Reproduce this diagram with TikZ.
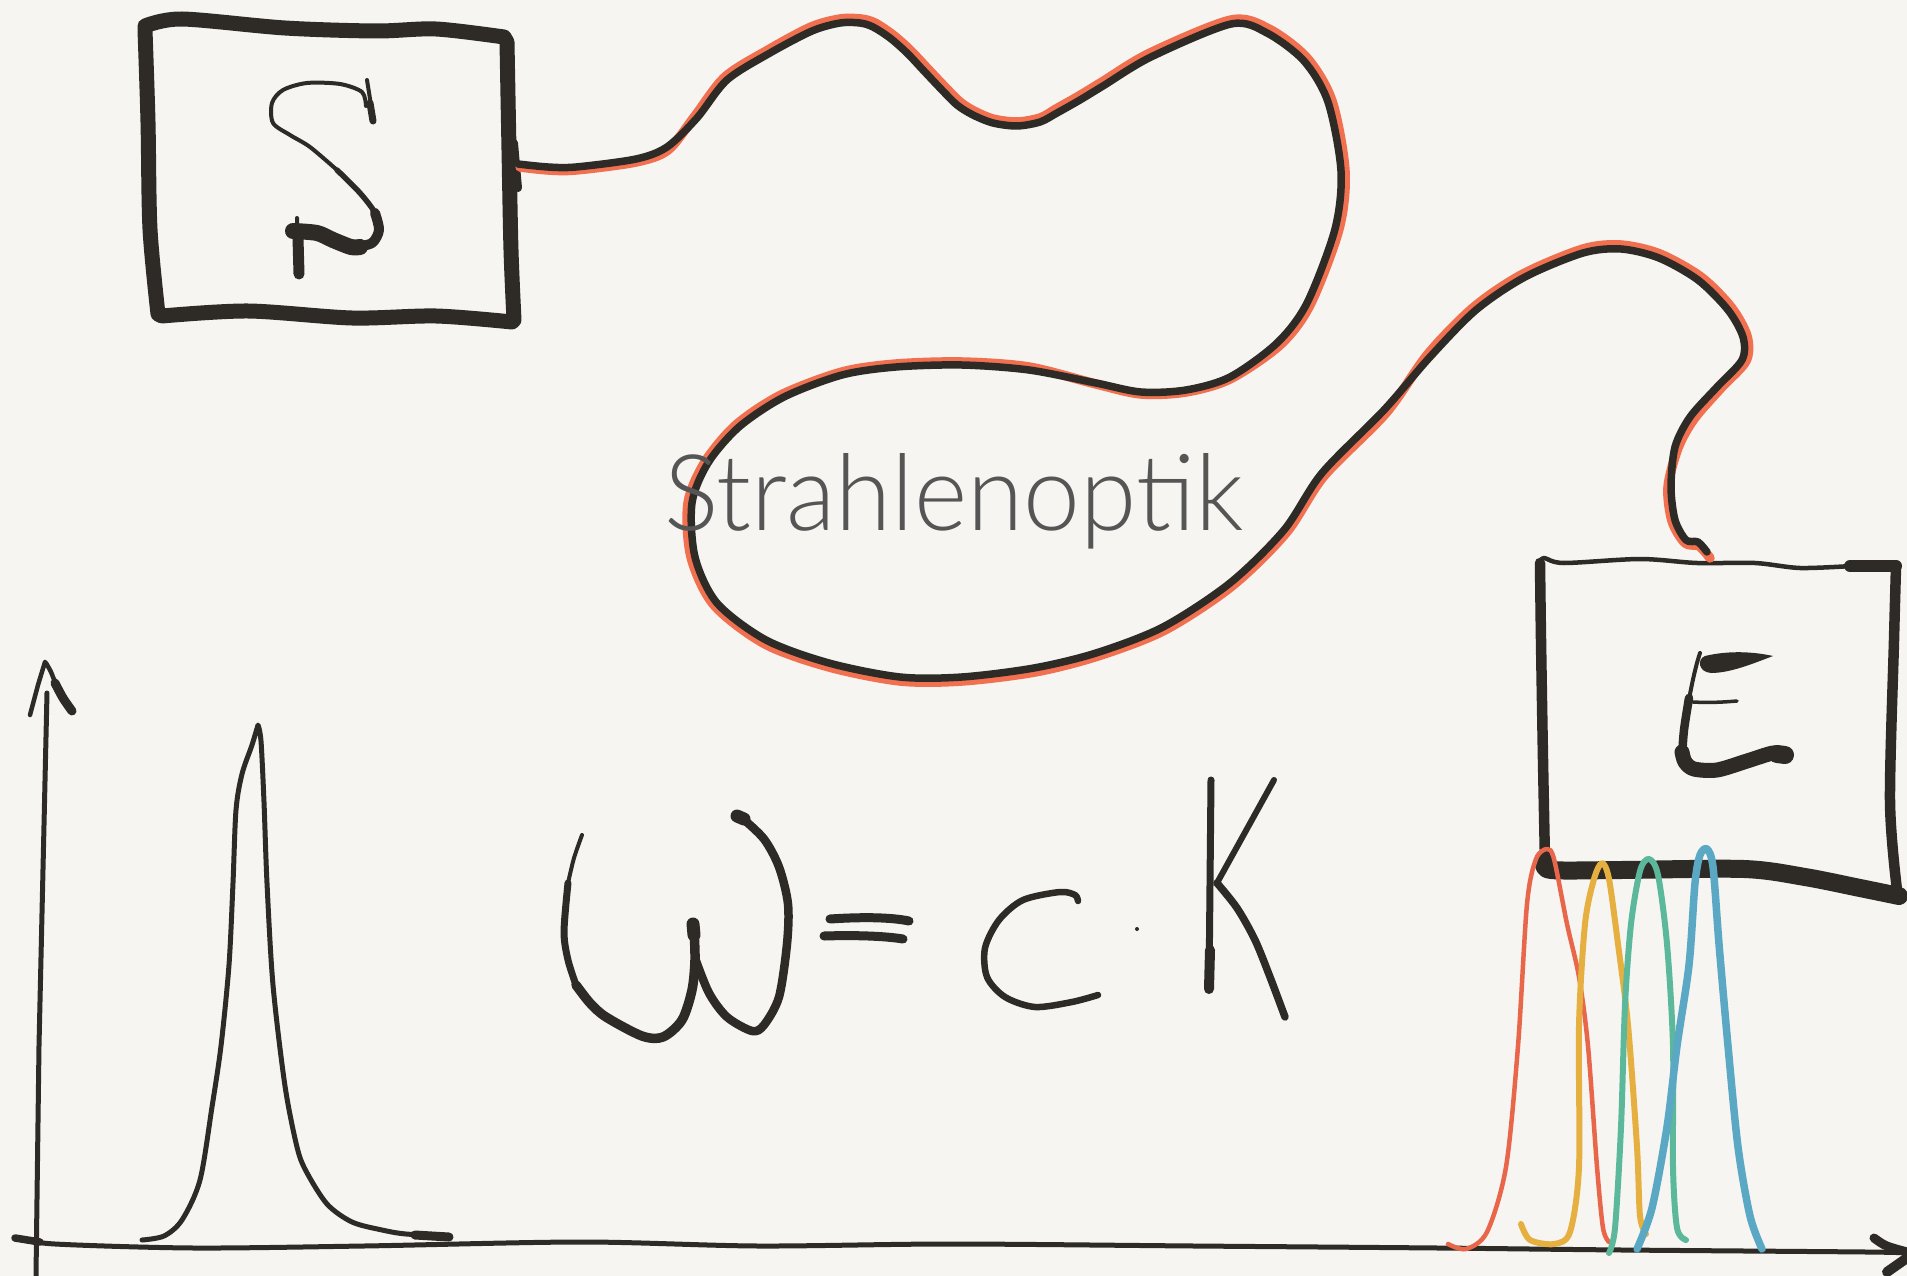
\documentclass[tikz,border=0pt]{standalone}
\usepackage{fontspec}
\newfontfamily\lightfont{Lato}[UprightFont={* Light}]
\definecolor{bg}{RGB}{246,245,241}
\definecolor{ink}{RGB}{46,43,38}
\definecolor{fib}{RGB}{240,112,80}
\definecolor{txtgray}{RGB}{85,85,85}
\definecolor{pred}{RGB}{232,103,74}
\definecolor{pyel}{RGB}{230,176,64}
\definecolor{pgrn}{RGB}{91,184,154}
\definecolor{pblu}{RGB}{90,168,196}
\tikzset{
  inkline/.style={draw=ink, line cap=round, line join=round},
  sm/.style={smooth, tension=0.5},
  fiberline/.style={draw=ink, line width=7.5, line cap=round, line join=round},
  fibershadow/.style={draw=fib, line width=9.5, line cap=round, line join=round},
  peak/.style={line cap=round, line join=round}
}
\begin{document}
\begin{tikzpicture}[x=1pt,y=-1pt]
\useasboundingbox (0,0) rectangle (1907,1276);
\fill[bg] (0,0) rectangle (1907,1276);

% ---------- S box ----------
\draw[inkline, line width=15]
  plot[sm] coordinates {(145,26) (182,19) (285,28) (376,31) (436,29) (504,37)}
  -- plot[sm] coordinates {(507,42) (509,150) (511,250) (514,320)}
  -- plot[sm] coordinates {(512,322) (436,316) (352,318) (248,311) (162,316)}
  -- plot[sm] coordinates {(158,314) (150,229) (148,122) (145,30)} -- cycle;
\draw[inkline, line width=8] (514,143) -- (518,188);
\coordinate (Sout) at (518,164);

% letter S
\draw[inkline, line width=4] (367,80) -- (371,105);
\draw[inkline, line width=7] (370,103) -- (373,121);
\draw[inkline, line width=4] plot[smooth] coordinates {(366,106) (362,92) (340,84) (307,83) (283,90) (272,103) (273,123) (290,135) (310,147) (337,170)};
\draw[inkline, line width=5.5] plot[smooth] coordinates {(337,170) (360,193) (375,213) (378,230)};
\draw[inkline, line width=10] plot[smooth] coordinates {(375,213) (379,230) (372,243) (355,247)};
\draw[inkline, line width=16] plot[smooth] coordinates {(360,247) (351,247) (333,240) (317,233) (293,231)};
\draw[inkline, line width=4] (297,218) -- (298,240);
\draw[inkline, line width=11] (298,238) -- (299,274);

% ---------- E box ----------
\draw[inkline, line width=4.5] plot[sm] coordinates {(1540,563) (1544,558) (1564,563) (1640,559) (1697,563) (1755,563) (1800,568) (1852,566)};
\draw[inkline, line width=12] (1850,566) -- (1896,566);
\draw[inkline, line width=10.5] plot[sm] coordinates {(1896,566) (1894,640) (1890,802) (1897,890)};
\draw[inkline, line width=10.5] plot[sm] coordinates {(1540,563) (1541,640) (1543,760) (1545,862)};
\draw[inkline, line width=18] plot[sm] coordinates {(1545,862) (1551,870) (1621,870) (1744,869) (1805,877) (1860,888) (1899,896)};
\coordinate (Ein) at (1707,552);

% letter E
\fill[ink] (1705,656) .. controls (1730,650) and (1755,652) .. (1773,656)
  .. controls (1752,664) and (1730,673) .. (1711,673)
  .. controls (1698,672) and (1697,659) .. cycle;
\draw[inkline, line width=4] (1700,653) .. controls (1695,668) and (1691,688) .. (1688,705);
\draw[inkline, line width=8.5] plot[smooth] coordinates {(1689,698) (1684,730) (1682,757)};
\draw[inkline, line width=15] plot[smooth] coordinates {(1682,752) (1685,762) (1694,769) (1717,770) (1747,761) (1773,753) (1784,755)};
\draw[inkline, line width=18] (1777,754) -- (1785,755);
\draw[inkline, line width=3.5] (1693,702) .. controls (1710,703) and (1725,702) .. (1737,701);

% ---------- fibre (orange shadow, then black line) ----------
\draw[fibershadow] plot[smooth, tension=0.5] coordinates {
 (520,167) (548,170) (576,170) (636,162) (668,150)
 (695,116) (725,77) (768,50) (811,27)
 (840,19) (861,19) (875,23)
 (893,35) (910,50) (926,67) (943,85) (960,102)
 (974,111) (993,119) (1017,122) (1040,118)
 (1056,109) (1079,96) (1102,82) (1150,53)
 (1231,20) (1269,29) (1307,58)
 (1332,101) (1345,171) (1339,229)
 (1310,305) (1280,345)
 (1230,379) (1186,392) (1141,394) (1096,384)
 (1029,367) (962,362) (896,364) (842,372)
 (781,395) (736,425) (705,462)
 (688,503) (691,557) (714,605)
 (765,644) (829,667) (900,681) (962,681) (1035,672)
 (1098,656) (1165,630) (1232,586) (1286,533) (1324,476) (1386,413)
 (1428,354) (1474,307) (1523,274)
 (1583,249) (1621,245) (1660,254)
 (1701,277) (1731,307) (1747,336)
 (1746,361) (1721,388) (1694,419)
 (1678,448) (1668,487) (1672,521) (1685,543) (1699,546) (1710,558)};
\draw[fiberline] plot[smooth, tension=0.5] coordinates {
 (Sout) (548,167) (576,167) (636,159) (667,147) (697,118) (727,80) (770,53) (812,31)
 (840,23) (860,23) (873,27) (890,38) (907,53) (923,70) (940,88) (957,105) (973,115)
 (993,123) (1017,126) (1040,122) (1057,113) (1080,100) (1103,86) (1151,57)
 (1231,24) (1267,33) (1304,61) (1328,102) (1341,171) (1335,229)
 (1307,303) (1277,343) (1230,377) (1186,390) (1141,392) (1096,383) (1029,370)
 (962,365) (896,367) (842,375) (784,397) (739,427) (708,463) (692,503) (695,557)
 (717,603) (766,640) (829,663) (900,677) (962,677) (1034,668) (1096,653)
 (1163,627) (1230,583) (1284,530) (1322,473) (1384,410) (1430,357) (1476,310)
 (1525,277) (1583,253) (1621,249) (1659,258) (1698,280) (1728,310) (1743,337)
 (1742,360) (1717,387) (1690,417) (1675,447) (1671,487) (1675,520) (1686,540)
 (1698,542) (Ein)};

% ---------- title ----------
\node[anchor=base west, inner sep=0pt, text=txtgray] (title) at (664,530)
  {\resizebox{579pt}{77pt}{\lightfont Strahlenoptik}};

% ---------- formula ----------
\draw[inkline, line width=4] plot[smooth] coordinates {(582,835) (574,858) (568,883)};
\draw[inkline, line width=7] plot[smooth] coordinates {(568,883) (564,932) (568,960) (576,985)};
\draw[inkline, line width=9.5] plot[smooth] coordinates {(576,985) (590,1003) (606,1017) (642,1036) (663,1037) (682,1020) (692,990) (695,960) (694,930)};
\draw[inkline, line width=13] (694,935) -- (693,924);
\draw[inkline, line width=8.5] plot[smooth] coordinates {(695,958) (709,993) (727,1017) (752,1031) (764,1025) (779,997) (787,944) (788,904) (779,867) (764,839) (742,818)};
\draw[inkline, line width=13] (744,819) -- (737,816);
\draw[inkline, line width=9] (830,919) .. controls (860,917) and (890,917) .. (909,921);
\draw[inkline, line width=9] (824,936) .. controls (855,935) and (885,936) .. (903,939);
\draw[inkline, line width=6.5] plot[smooth] coordinates {(1078,901) (1075,895) (1060,892) (1023,900) (999,920) (985,948) (987,977) (1005,997) (1035,1007) (1072,1002) (1098,995)};
\fill[ink] (1137,929) circle (2);
\draw[inkline, line width=7] (1211,780) -- (1209,989);
\draw[inkline, line width=10] (1210,950) -- (1209,989);
\draw[inkline, line width=6] (1274,780) -- (1217,883);
\draw[inkline, line width=7.5] plot[smooth] coordinates {(1217,883) (1237,908) (1255,940) (1270,977) (1285,1017)};

% ---------- axes ----------
\draw[inkline, line width=5] (36,1276) -- (39,1046) -- (47,693);
\draw[inkline, line width=4.5] (30,715) -- (38,685) -- (45,662);
\draw[inkline, line width=4.5] plot[smooth] coordinates {(46,663) (51,672) (56,685)};
\draw[inkline, line width=9] plot[smooth] coordinates {(55,683) (63,698) (72,711)};
\draw[inkline, line width=5] plot[sm] coordinates {(15,1238) (55,1244) (194,1248) (364,1246) (582,1242) (758,1246) (950,1244) (1194,1246) (1438,1248) (1622,1250) (1866,1252) (1907,1253)};
\draw[inkline, line width=7.5] (15,1238) -- (40,1242);
\draw[inkline, line width=9] (1874,1238) .. controls (1885,1246) .. (1907,1252);
\draw[inkline, line width=10] (1907,1258) -- (1887,1272);

% left peak
\draw[inkline, line width=5]
  plot[smooth] coordinates {(142,1240) (164,1236) (182,1220) (200,1180) (212,1107) (221,1046) (229,965) (233,883) (236,810) (242,774) (252,745) (258,725)}
  -- plot[smooth] coordinates {(258,725) (261,741) (264,802) (267,883) (273,985) (285,1086) (297,1147) (306,1171) (327,1204) (352,1222) (382,1230) (406,1234) (448,1236)};
\draw[inkline, line width=9] (415,1235) -- (449,1237);

% coloured peaks
\draw[peak, pred, line width=4.5] plot[smooth] coordinates {(1448,1244) (1466,1249) (1487,1232) (1506,1167) (1518,1046) (1527,904) (1536,859) (1547,849) (1554,859) (1567,924) (1579,977) (1588,1046) (1597,1167) (1603,1228) (1609,1242)};
\draw[peak, pyel, line width=6] plot[smooth] coordinates {(1521,1224) (1530,1240) (1554,1244) (1570,1232) (1579,1167) (1579,1025) (1585,924) (1594,879) (1602,863) (1609,879) (1618,944) (1628,1025) (1637,1147) (1640,1216) (1646,1234)};
\draw[peak, pgrn, line width=6] plot[smooth] coordinates {(1609,1253) (1615,1228) (1621,1127) (1625,1005) (1631,924) (1640,871) (1649,859) (1658,875) (1667,944) (1673,1046) (1673,1167) (1677,1228) (1686,1240)};
\draw[peak, pblu, line width=7.5] plot[smooth] coordinates {(1637,1249) (1652,1208) (1667,1127) (1677,1046) (1689,965) (1695,883) (1700,855) (1707,849) (1713,867) (1719,944) (1728,1046) (1738,1147) (1750,1216) (1762,1249)};
\end{tikzpicture}
\end{document}
